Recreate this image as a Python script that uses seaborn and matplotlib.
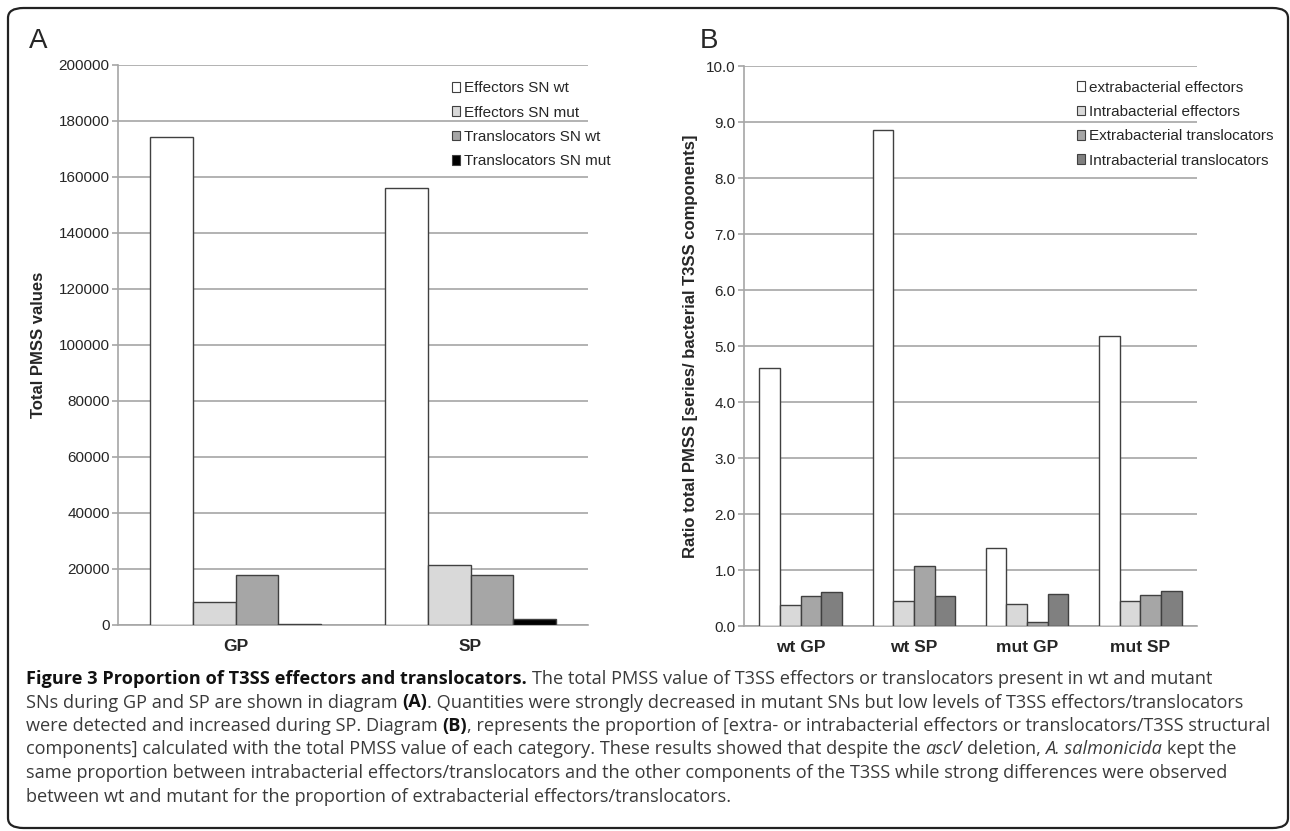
import matplotlib
matplotlib.use('Agg')
import matplotlib.pyplot as plt
import pandas as pd
import seaborn as sns
import numpy as np
from matplotlib.patches import Patch, FancyBboxPatch

# ---- data ----
groups_a = ['GP', 'SP']
series_a = ['Effectors SN wt', 'Effectors SN mut', 'Translocators SN wt', 'Translocators SN mut']
eff_wt = [174200, 156000]
eff_mut = [8300, 21300]
trans_wt = [17900, 17900]
trans_mut = [400, 2100]
colors_a = ['#ffffff', '#d9d9d9', '#a6a6a6', '#000000']

groups_b = ['wt GP', 'wt SP', 'mut GP', 'mut SP']
series_b = ['extrabacterial effectors', 'Intrabacterial effectors',
            'Extrabacterial translocators', 'Intrabacterial translocators']
extra_eff = [4.60, 8.85, 1.40, 5.17]
intra_eff = [0.38, 0.44, 0.40, 0.44]
extra_trans = [0.54, 1.08, 0.08, 0.56]
intra_trans = [0.60, 0.54, 0.57, 0.62]
colors_b = ['#ffffff', '#d9d9d9', '#a6a6a6', '#808080']

caption_lines = [
    [('Figure 3 Proportion of T3SS effectors and translocators.', 'bold', 'normal'),
     (' The total PMSS value of T3SS effectors or translocators present in wt and mutant', 'normal', 'normal')],
    [('SNs during GP and SP are shown in diagram ', 'normal', 'normal'), ('(A)', 'bold', 'normal'),
     ('. Quantities were strongly decreased in mutant SNs but low levels of T3SS effectors/translocators', 'normal', 'normal')],
    [('were detected and increased during SP. Diagram ', 'normal', 'normal'), ('(B)', 'bold', 'normal'),
     (', represents the proportion of [extra- or intrabacterial effectors or translocators/T3SS structural', 'normal', 'normal')],
    [('components] calculated with the total PMSS value of each category. These results showed that despite the ', 'normal', 'normal'),
     ('ascV', 'normal', 'italic'), (' deletion, ', 'normal', 'normal'), ('A. salmonicida', 'normal', 'italic'),
     (' kept the', 'normal', 'normal')],
    [('same proportion between intrabacterial effectors/translocators and the other components of the T3SS while strong differences were observed', 'normal', 'normal')],
    [('between wt and mutant for the proportion of extrabacterial effectors/translocators.', 'normal', 'normal')],
]

df_a = pd.DataFrame({'group': groups_a * 4,
                     'series': [s for s in series_a for _ in groups_a],
                     'value': eff_wt + eff_mut + trans_wt + trans_mut})
df_b = pd.DataFrame({'group': groups_b * 4,
                     'series': [s for s in series_b for _ in groups_b],
                     'value': extra_eff + intra_eff + extra_trans + intra_trans})

sns.set_style('white')
plt.rcParams['font.family'] = ['Liberation Sans', 'DejaVu Sans']

W, H = 1290, 831
fig = plt.figure(figsize=(W / 100, H / 100), dpi=100)

# rounded frame
frame = FancyBboxPatch((8 / W, 3 / H), 1280 / W, 820 / H,
                       boxstyle='round,pad=0,rounding_size=0.012',
                       transform=fig.transFigure, facecolor='none',
                       edgecolor='#222222', linewidth=1.6)
fig.patches.append(frame)

grid_c = '#a6a6a6'


def panel(rect, df, groups, series, colors, ylim, yticks, fmt, legend_xy, ylabel, ylabel_x):
    ax = fig.add_axes(rect)
    sns.barplot(data=df, x='group', y='value', hue='series', order=groups, hue_order=series,
                palette=dict(zip(series, colors)), edgecolor='#404040', linewidth=1.0,
                width=0.73, legend=False, ax=ax, zorder=3)
    ax.set_xlim(-0.5, len(groups) - 0.5)
    ax.set_ylim(*ylim)
    ax.set_yticks(yticks)
    ax.set_yticklabels([fmt.format(v) for v in yticks], fontsize=11)
    ax.set_xticks(range(len(groups)))
    ax.set_xticklabels(groups, fontsize=12.5, fontweight='bold')
    ax.set_xticks(np.arange(-0.5, len(groups)), minor=True)
    ax.tick_params(axis='x', which='major', length=0, pad=10)
    ax.tick_params(axis='x', which='minor', length=5, width=1.2, color=grid_c, direction='out')
    ax.tick_params(axis='y', length=4, width=1.2, color=grid_c, direction='out', pad=2, left=True)
    ax.yaxis.grid(True, color=grid_c, linewidth=1.2)
    ax.set_axisbelow(True)
    for s in ['top', 'right']:
        ax.spines[s].set_visible(False)
    for s in ['left', 'bottom']:
        ax.spines[s].set_color(grid_c)
        ax.spines[s].set_linewidth(1.2)
    ax.set_xlabel('')
    ax.set_ylabel(ylabel, fontsize=12, fontweight='bold')
    ax.yaxis.set_label_coords(ylabel_x, 0.5)
    handles = [Patch(facecolor=c, edgecolor='#404040', linewidth=0.8) for c in colors]
    ax.legend(handles, series, loc='upper left', bbox_to_anchor=legend_xy, frameon=False,
              fontsize=11, borderpad=0, borderaxespad=0, handlelength=0.55, handleheight=0.6,
              handletextpad=0.25, labelspacing=0.68)
    return ax


ax_a = panel([118 / W, 1 - 625 / H, 470 / W, 560 / H], df_a, groups_a, series_a, colors_a,
             (0, 200000), list(range(0, 200001, 20000)), '{:d}', (0.71, 0.971),
             'Total PMSS values', -0.153)
ax_b = panel([744 / W, 1 - 626 / H, 453 / W, 560 / H], df_b, groups_b, series_b, colors_b,
             (0, 10), [i * 1.0 for i in range(11)], '{:.1f}', (0.735, 0.974),
             'Ratio total PMSS [series/ bacterial T3SS components]', -0.1015)

fig.text(29 / W, 1 - 48 / H, 'A', fontsize=20, va='baseline', ha='left')
fig.text(700 / W, 1 - 48 / H, 'B', fontsize=20, va='baseline', ha='left')

# ---- caption with mixed styles ----
renderer = fig.canvas.get_renderer()
cap_family = ['Open Sans', 'DejaVu Sans']


def width_of(s, size, weight, style):
    if not s:
        return 0.0
    t = fig.text(0, 0, s, fontsize=size, fontweight=weight, fontstyle=style, family=cap_family)
    w = t.get_window_extent(renderer).width
    t.remove()
    return w


def run_width(s, size, weight, style):
    core = s.strip(' ')
    lead = len(s) - len(s.lstrip(' '))
    trail = len(s) - len(s.rstrip(' '))
    sp = width_of('x x', size, weight, style) - width_of('xx', size, weight, style)
    return width_of(core, size, weight, style), lead * sp, trail * sp


def line_width(runs, size):
    tot = 0.0
    for s, wgt, sty in runs:
        c, l, r = run_width(s, size, wgt, sty)
        tot += c + l + r
    return tot


x0 = 26
cap_size = 11.0
widest = max(line_width(r, cap_size) for r in caption_lines)
cap_size *= (1274 - x0) / widest

baselines = [684, 707.5, 731, 754.5, 778, 801.5]
for runs, yb in zip(caption_lines, baselines):
    x = x0
    for s, wgt, sty in runs:
        c, l, r = run_width(s, cap_size, wgt, sty)
        x += l
        col = '#111111' if wgt == 'bold' else '#3a3a3a'
        fig.text(x / W, 1 - yb / H, s.strip(' '), fontsize=cap_size, fontweight=wgt,
                 fontstyle=sty, family=cap_family, color=col, va='baseline', ha='left')
        x += c + r

fig.savefig('out.png', dpi=100)
